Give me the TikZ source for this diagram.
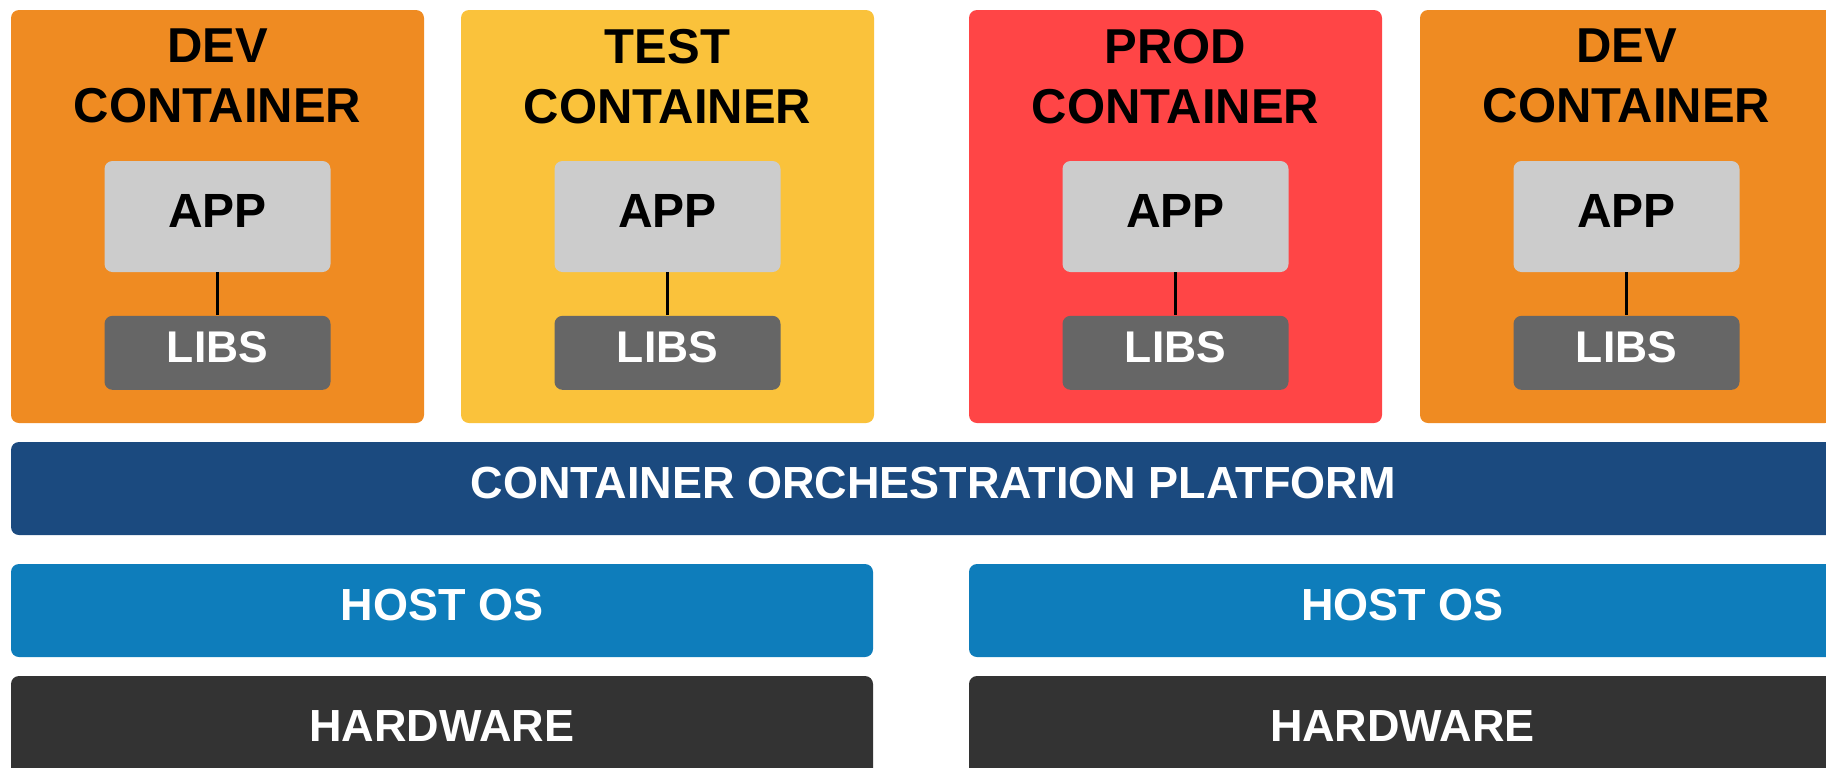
\documentclass[tikz,border=0pt]{standalone}
\usepackage{fontspec}
\setmainfont{Liberation Sans}
\usepackage{xcolor}
\usepackage{tikz}
\usetikzlibrary{positioning}

\definecolor{devorange}{HTML}{EF8B22}
\definecolor{testyellow}{HTML}{FAC23B}
\definecolor{prodred}{HTML}{FF4546}
\definecolor{appgray}{HTML}{CCCCCC}
\definecolor{libsgray}{HTML}{666666}
\definecolor{orchblue}{HTML}{1B4A7F}
\definecolor{hostblue}{HTML}{0E7DBB}
\definecolor{hwgray}{HTML}{333333}

\begin{document}
\begin{tikzpicture}[x=0.5pt,y=-0.5pt]

\useasboundingbox (0,0) rectangle (1826,767);
\clip (0,0) rectangle (1826,767);

\tikzstyle{contbox} = [rectangle, rounded corners=4pt, inner sep=0pt, minimum width=206.5pt, minimum height=206.5pt]
\tikzstyle{contname} = [inner sep=0pt, align=center, font=\bfseries\fontsize{24.5}{30}\selectfont]
\tikzstyle{appbox} = [fill=appgray, rectangle, rounded corners=4pt, minimum width=113pt, minimum height=55.5pt, text depth=6pt, font=\bfseries\fontsize{24}{28}\selectfont]
\tikzstyle{libbox} = [fill=libsgray, text=white, rectangle, rounded corners=4pt, minimum width=113pt, minimum height=37pt, text depth=6pt, font=\bfseries\fontsize{22.2}{26}\selectfont]
\tikzstyle{layerbox} = [rectangle, rounded corners=4pt, text=white, minimum height=46.5pt, text depth=6pt, font=\bfseries\fontsize{22.5}{26}\selectfont]
\tikzstyle{link} = [black, line width=1.3pt]

% containers
\node (dev1) [contbox, fill=devorange] at (217.5,216.5) {};
\node (dev1name) [contname, below=9.5pt of dev1.north] {DEV\\CONTAINER};
\node (app1) [appbox] at (217.5,216.5) {APP};
\node (libs1) [libbox, below=21.5pt of app1] {LIBS};
\draw [link] (app1) -- (libs1);

\node (test) [contbox, fill=testyellow] at (667.5,216.5) {};
\node (testname) [contname, below=9.5pt of test.north] {TEST\\CONTAINER};
\node (app2) [appbox] at (667.5,216.5) {APP};
\node (libs2) [libbox, below=21.5pt of app2] {LIBS};
\draw [link] (app2) -- (libs2);

\node (prod) [contbox, fill=prodred] at (1175.5,216.5) {};
\node (prodname) [contname, below=9.5pt of prod.north] {PROD\\CONTAINER};
\node (app3) [appbox] at (1175.5,216.5) {APP};
\node (libs3) [libbox, below=21.5pt of app3] {LIBS};
\draw [link] (app3) -- (libs3);

\node (dev2) [contbox, fill=devorange] at (1626.5,216.5) {};
\node (dev2name) [contname, below=9.5pt of dev2.north] {DEV\\CONTAINER};
\node (app4) [appbox] at (1626.5,216.5) {APP};
\node (libs4) [libbox, below=21.5pt of app4] {LIBS};
\draw [link] (app4) -- (libs4);

% layers
\node (orch) [layerbox, fill=orchblue, minimum width=922pt] at (933,488.5) {CONTAINER ORCHESTRATION PLATFORM};

\node (host1) [layerbox, fill=hostblue, minimum width=431pt] at (442,610.5) {HOST OS};
\node (host2) [layerbox, fill=hostblue, minimum width=433.5pt] at (1402.5,610.5) {HOST OS};

\node (hw1) [layerbox, fill=hwgray, minimum width=431pt, minimum height=56pt] at (442,732) {HARDWARE};
\node (hw2) [layerbox, fill=hwgray, minimum width=433.5pt, minimum height=56pt] at (1402.5,732) {HARDWARE};

\end{tikzpicture}
\end{document}
